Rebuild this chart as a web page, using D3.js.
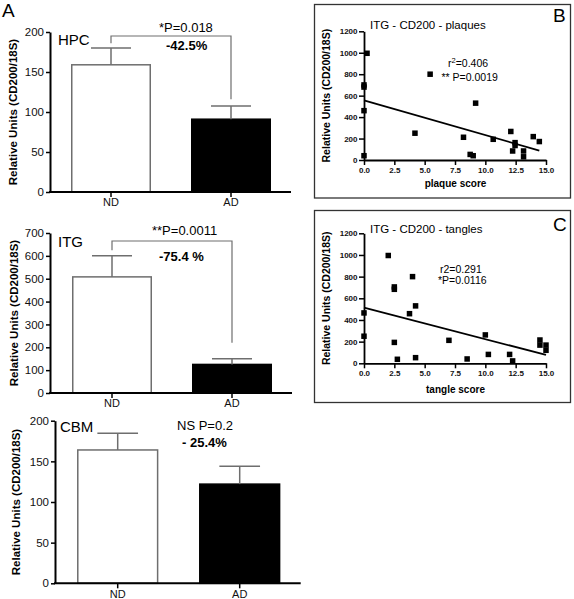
<!DOCTYPE html>
<html><head><meta charset="utf-8">
<script src="https://cdn.jsdelivr.net/npm/d3@7/dist/d3.min.js"></script>
<style>
body{margin:0;background:#fff}
svg{display:block;font-family:"Liberation Sans",Arial,Helvetica,sans-serif}
</style>
</head><body>
<svg id="chart" width="574" height="599"></svg>
<script>
// ---------- DATA ----------
const groups = ["ND", "AD"];
const hpcMean = [159, 91];
const hpcSem = [21, 16.5];
const itgMean = [508, 125];
const itgSem = [92, 25];
const cbmMean = [164, 122];
const cbmSem = [20.5, 22];
const hpcTicks = [0, 50, 100, 150, 200];
const itgTicks = [0, 100, 200, 300, 400, 500, 600, 700];
const cbmTicks = [0, 50, 100, 150, 200];
// significance brackets: [bracket level, left end, right end] in data units
const hpcBracket = [195, 186, 116];
const itgBracket = [665, 625, 220];

const scatterXTicks = [0, 2.5, 5, 7.5, 10, 12.5, 15];
const scatterYTicks = [0, 200, 400, 600, 800, 1000, 1200];
const plaqueX = [0.25, 0, 0, 0, 0, 5.45, 4.2, 9.2, 8.2, 8.75, 9.0, 10.65, 12.1, 12.45, 12.45, 12.25, 13.15, 13.15, 13.95, 14.45];
const plaqueY = [995, 700, 680, 460, 40, 800, 250, 530, 212, 52, 40, 193, 266, 162, 135, 84, 84, 30, 218, 172];
const plaqueFit = [[0, 555], [14.45, 88]];
const tangleX = [0, 0, 2, 2.5, 2.5, 2.5, 2.75, 3.75, 4, 4.25, 4.25, 7, 8.5, 10, 10.25, 12, 12.25, 14.5, 14.5, 15, 15];
const tangleY = [465, 250, 995, 705, 683, 193, 37, 458, 800, 530, 52, 212, 40, 262, 82, 82, 22, 215, 168, 168, 120];
const tangleFit = [[0, 515], [15, 77]];

// ---------- DRAW ----------
const svg = d3.select("#chart");
const GRAY = "#6e6e6e";

svg.append("text").attr("x", 2).attr("y", 17).attr("font-size", 19).text("A");

function barPanel(c) {
  const g = svg.append("g");
  const x = d3.scaleBand().domain(groups).range(c.band).paddingInner(1/3).paddingOuter(1/6);
  const y = d3.scaleLinear().domain([0, c.max]).range([c.yb, c.yt]);
  const cx = d => x(d) + x.bandwidth() / 2;

  g.selectAll("rect.bar").data(groups).join("rect").attr("class", "bar")
    .attr("x", d => x(d) + 0.75).attr("width", x.bandwidth() - 1.5)
    .attr("y", (d, i) => y(c.mean[i])).attr("height", (d, i) => y(0) - y(c.mean[i]))
    .attr("fill", (d, i) => i ? "#000" : "#fff")
    .attr("stroke", (d, i) => i ? "#000" : GRAY).attr("stroke-width", 1.5);

  const half = x.bandwidth() / 4;
  groups.forEach((d, i) => {
    const top = y(c.mean[i] + c.sem[i]);
    g.append("line").attr("x1", cx(d)).attr("x2", cx(d)).attr("y1", y(c.mean[i])).attr("y2", top)
      .attr("stroke", GRAY).attr("stroke-width", 1.5);
    g.append("line").attr("x1", cx(d) - half).attr("x2", cx(d) + half).attr("y1", top).attr("y2", top)
      .attr("stroke", GRAY).attr("stroke-width", 1.5);
  });

  // y axis
  const ya = g.append("g").attr("transform", `translate(${c.ax},0)`)
    .call(d3.axisLeft(y).tickValues(c.ticks).tickSize(4).tickSizeOuter(0).tickPadding(2).tickFormat(d3.format("d")));
  ya.selectAll("text").attr("font-size", 11.5).attr("font-family", null).attr("fill", "#111");
  ya.selectAll("line").attr("stroke-width", 1.5);
  ya.select(".domain").attr("stroke-width", 2);

  // x axis
  const xa = g.append("g").attr("transform", `translate(0,${c.yb})`)
    .call(d3.axisBottom(x).tickSize(5).tickSizeOuter(0).tickPadding(1.5));
  xa.select(".domain").remove();
  xa.selectAll("text").attr("font-size", 11).attr("font-family", null).attr("fill", "#111");
  xa.selectAll("line").attr("stroke-width", 1.5);
  g.append("line").attr("x1", c.ax - 1).attr("x2", c.band[1]).attr("y1", c.yb).attr("y2", c.yb)
    .attr("stroke", "#000").attr("stroke-width", 2);

  // y label
  g.append("text").attr("transform", `translate(${c.lx},${(c.yb + c.yt) / 2}) rotate(-90)`)
    .attr("text-anchor", "middle").attr("font-size", 11.5).attr("font-weight", "bold")
    .text("Relative Units (CD200/18S)");

  // region name
  g.append("text").attr("x", c.name[1]).attr("y", c.name[2]).attr("font-size", 15).text(c.name[0]);

  // bracket
  if (c.bracket) {
    const [lv, le, re] = c.bracket;
    const path = d3.path();
    path.moveTo(cx("ND"), y(le)); path.lineTo(cx("ND"), y(lv));
    path.lineTo(cx("AD"), y(lv)); path.lineTo(cx("AD"), y(re));
    g.append("path").attr("d", path.toString()).attr("fill", "none").attr("stroke", GRAY).attr("stroke-width", 1.2);
  }
  // annotations
  g.append("text").attr("x", c.p[1]).attr("y", c.p[2]).attr("font-size", 13).text(c.p[0]);
  g.append("text").attr("x", c.pct[1]).attr("y", c.pct[2]).attr("font-size", 13).attr("font-weight", "bold").text(c.pct[0]);
}

barPanel({ax: 50, band: [51, 291], yb: 192, yt: 32, max: 200, ticks: hpcTicks, mean: hpcMean, sem: hpcSem,
  lx: 17, name: ["HPC", 58, 45], bracket: hpcBracket, p: ["*P=0.018", 159, 31.5], pct: ["-42.5%", 166, 50]});
barPanel({ax: 50, band: [52, 292], yb: 393, yt: 233, max: 700, ticks: itgTicks, mean: itgMean, sem: itgSem,
  lx: 18, name: ["ITG", 58, 247], bracket: itgBracket, p: ["**P=0.0011", 152, 235], pct: ["-75.4 %", 159, 261]});
barPanel({ax: 55, band: [56.7, 300.7], yb: 583.3, yt: 420.7, max: 200, ticks: cbmTicks, mean: cbmMean, sem: cbmSem,
  lx: 19.5, name: ["CBM", 60, 432], bracket: null, p: ["NS P=0.2", 177, 430], pct: ["- 25.4%", 182, 447]});

function scatterPanel(c) {
  const g = svg.append("g");
  g.append("rect").attr("x", c.box[0]).attr("y", c.box[1]).attr("width", c.box[2]).attr("height", c.box[3])
    .attr("fill", "none").attr("stroke", "#333").attr("stroke-width", 1.3);
  const x = d3.scaleLinear().domain([0, 15]).range([364, 546]);
  const y = d3.scaleLinear().domain([0, 1200]).range([c.y0, c.y1]);

  const xa = g.append("g").attr("transform", `translate(0,${c.y0})`)
    .call(d3.axisBottom(x).tickValues(scatterXTicks).tickSize(5).tickSizeOuter(0).tickPadding(2).tickFormat(d3.format(".1f")));
  const ya = g.append("g").attr("transform", "translate(364,0)")
    .call(d3.axisLeft(y).tickValues(scatterYTicks).tickSize(5).tickSizeOuter(0).tickPadding(1.5).tickFormat(d3.format("d")));
  [xa, ya].forEach(a => {
    a.selectAll("text").attr("font-size", 8).attr("font-weight", "bold").attr("font-family", null).attr("fill", "#111");
    a.selectAll("line").attr("stroke-width", 1.5);
    a.select(".domain").attr("stroke-width", 1.8);
  });

  g.append("line").attr("x1", x(c.fit[0][0])).attr("y1", y(c.fit[0][1]))
    .attr("x2", x(c.fit[1][0])).attr("y2", y(c.fit[1][1])).attr("stroke", "#000").attr("stroke-width", 1.8);

  const s = 5.5;
  g.selectAll("rect.pt").data(c.xs).join("rect").attr("class", "pt")
    .attr("x", (d) => x(d) - s / 2).attr("y", (d, i) => y(c.ys[i]) - s / 2)
    .attr("width", s).attr("height", s).attr("fill", "#000");

  g.append("text").attr("x", 370).attr("y", c.title[1]).attr("font-size", 11.5).text(c.title[0]);
  g.append("text").attr("x", 553).attr("y", c.letter[1]).attr("font-size", 19).text(c.letter[0]);
  g.append("text").attr("x", 455.5).attr("y", c.xl[1]).attr("text-anchor", "middle")
    .attr("font-size", 10).attr("font-weight", "bold").text(c.xl[0]);
  g.append("text").attr("transform", `translate(329.5,${(c.y0 + c.y1) / 2}) rotate(-90)`)
    .attr("text-anchor", "middle").attr("font-size", 10.5).attr("font-weight", "bold")
    .text("Relative Units (CD200/18S)");
  c.notes(g);
}

scatterPanel({box: [314.5, 4.5, 256, 193.5], y0: 160, y1: 31.3, xs: plaqueX, ys: plaqueY, fit: plaqueFit,
  title: ["ITG - CD200 - plaques", 29], letter: ["B", 22], xl: ["plaque score", 187],
  notes: g => {
    const t = g.append("text").attr("x", 448).attr("y", 66.5).attr("font-size", 10.5);
    t.append("tspan").text("r");
    t.append("tspan").attr("dy", -4).attr("font-size", 7.5).text("2");
    t.append("tspan").attr("dy", 4).text("=0.406");
    g.append("text").attr("x", 441.5).attr("y", 81).attr("font-size", 10.5).text("** P=0.0019");
  }});
scatterPanel({box: [314.5, 210.5, 256, 192], y0: 363.3, y1: 233.3, xs: tangleX, ys: tangleY, fit: tangleFit,
  title: ["ITG - CD200 - tangles", 233], letter: ["C", 231], xl: ["tangle score", 393],
  notes: g => {
    g.append("text").attr("x", 440).attr("y", 273).attr("font-size", 10.5).text("r2=0.291");
    g.append("text").attr("x", 438).attr("y", 283.5).attr("font-size", 10.5).text("*P=0.0116");
  }});
</script>
</body></html>
